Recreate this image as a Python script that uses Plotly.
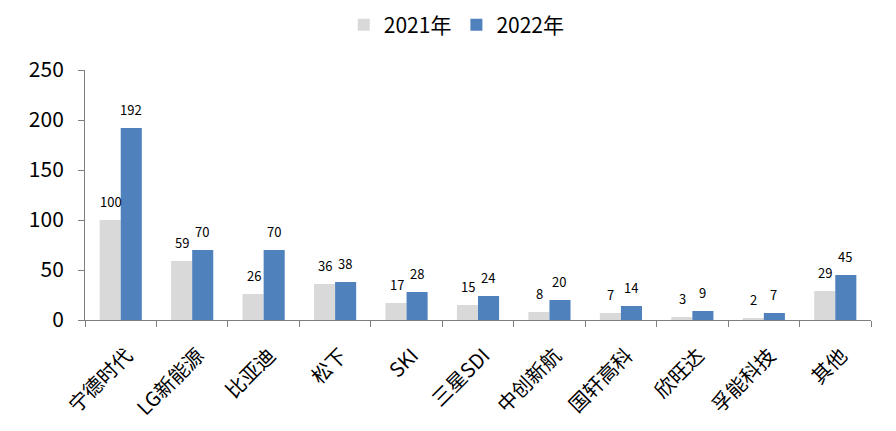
import plotly.graph_objects as go

categories = ["宁德时代", "LG新能源", "比亚迪", "松下", "SKI", "三星SDI", "中创新航", "国轩高科", "欣旺达", "孚能科技", "其他"]
values_2021 = [100, 59, 26, 36, 17, 15, 8, 7, 3, 2, 29]
values_2022 = [192, 70, 70, 38, 28, 24, 20, 14, 9, 7, 45]
series_names = ["2021年", "2022年"]
y_ticks = [0, 50, 100, 150, 200, 250]

FONT = "Noto Sans CJK SC, Microsoft YaHei, sans-serif"
GREY = "#D9D9D9"
BLUE = "#4F81BD"
AXIS = "#7F7F7F"

fig = go.Figure()
fig.add_trace(go.Bar(x=categories, y=values_2021, name=series_names[0], marker=dict(color=GREY, line=dict(width=0))))
fig.add_trace(go.Bar(x=categories, y=values_2022, name=series_names[1], marker=dict(color=BLUE, line=dict(width=0))))

annotations = []
for cat, v1, v2 in zip(categories, values_2021, values_2022):
    annotations.append(dict(x=cat, y=v1, xref="x", yref="y", text=str(v1), showarrow=False,
                            xshift=-10, yshift=19, font=dict(size=13, color="#000000", family=FONT)))
    annotations.append(dict(x=cat, y=v2, xref="x", yref="y", text=str(v2), showarrow=False,
                            xshift=10, yshift=19, font=dict(size=13, color="#000000", family=FONT)))

fig.update_layout(
    width=888, height=423,
    margin=dict(l=77, r=25, t=62, b=111, autoexpand=False),
    paper_bgcolor="white", plot_bgcolor="white",
    barmode="group", bargap=0.41, bargroupgap=0,
    font=dict(family=FONT, color="#000000"),
    legend=dict(orientation="h", x=0.473, xanchor="center", y=1.18, yanchor="middle",
                font=dict(size=21, family=FONT), traceorder="normal"),
    annotations=annotations,
    xaxis=dict(showline=True, linecolor=AXIS, linewidth=1, ticks="outside", tickson="boundaries",
               ticklen=6, tickcolor=AXIS, tickangle=-45, tickfont=dict(size=20, family=FONT),
               ticklabelstandoff=15, ticklabelshift=6, showgrid=False, automargin=False),
    yaxis=dict(range=[0, 250], tickvals=y_ticks, showline=True, linecolor=AXIS, linewidth=1,
               ticks="outside", ticklen=6, tickcolor=AXIS, tickfont=dict(size=21, family=FONT),
               ticklabelstandoff=10, showgrid=False, zeroline=False, automargin=False),
)

fig.write_html("out.html")
